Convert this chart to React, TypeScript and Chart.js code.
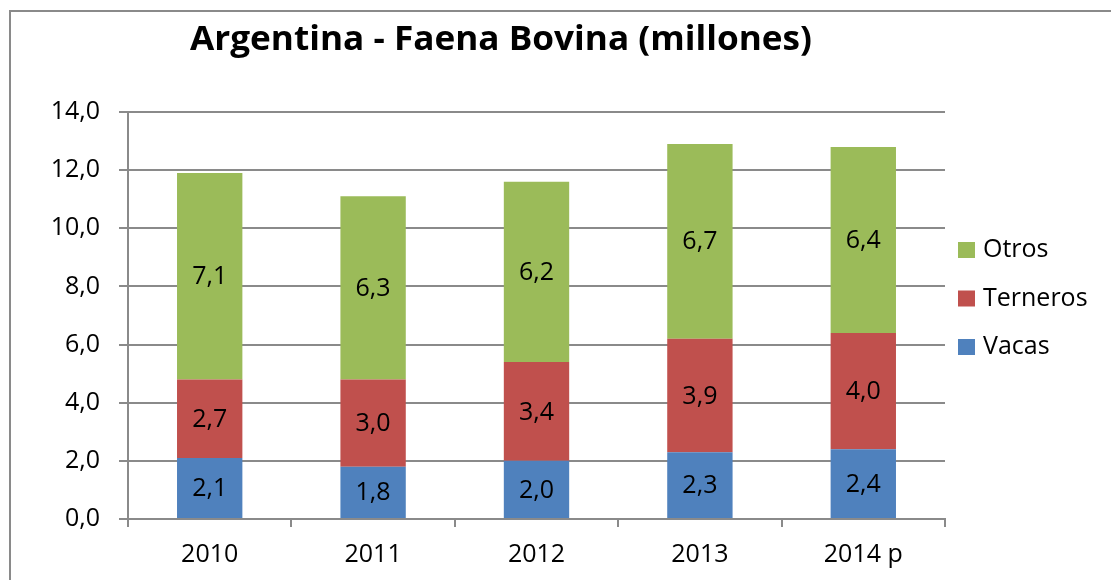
import React, { useEffect, useRef } from "react";
import { Chart, registerables } from "chart.js";

Chart.register(...registerables);

const categories = ["2010", "2011", "2012", "2013", "2014 p"];
const vacas = [2.1, 1.8, 2.0, 2.3, 2.4];
const terneros = [2.7, 3.0, 3.4, 3.9, 4.0];
const otros = [7.1, 6.3, 6.2, 6.7, 6.4];
const yMin = 0;
const yMax = 14;
const yStep = 2;
const titleText = "Argentina - Faena Bovina (millones)";

const FONT = "'Open Sans', sans-serif";
const fmt = (v: number) => v.toFixed(1).replace(".", ",");

const framePlugin = {
  id: "framePlugin",
  beforeDraw(chart: any) {
    const ctx = chart.ctx;
    ctx.save();
    ctx.fillStyle = "#ffffff";
    ctx.fillRect(0, 0, chart.width, chart.height);
    ctx.fillStyle = "#8a8a8a";
    ctx.fillRect(9, 10, 2, chart.height - 10);
    ctx.fillRect(9, 10, chart.width - 9, 2);
    ctx.restore();
  },
  afterDraw(chart: any) {
    const ctx = chart.ctx;
    ctx.save();
    // title
    ctx.fillStyle = "#000";
    ctx.font = `bold 34px ${FONT}`;
    ctx.textAlign = "center";
    ctx.textBaseline = "alphabetic";
    const w = ctx.measureText(titleText).width;
    const sx = 622 / w;
    ctx.save();
    ctx.translate(501, 50);
    ctx.scale(sx, 1);
    ctx.fillText(titleText, 0, 0);
    ctx.restore();
    // legend (reverse order)
    const items = chart.data.datasets
      .map((d: any) => ({ label: d.label, color: d.backgroundColor }))
      .reverse();
    ctx.font = `25px ${FONT}`;
    ctx.textAlign = "left";
    ctx.textBaseline = "middle";
    items.forEach((it: any, i: number) => {
      const cy = 250 + i * 48.5;
      ctx.fillStyle = it.color;
      ctx.fillRect(958, cy - 8, 17, 16);
      ctx.fillStyle = "#000";
      ctx.fillText(it.label, 983, cy);
    });
    ctx.restore();
  },
  afterDatasetsDraw(chart: any) {
    const ctx = chart.ctx;
    ctx.save();
    ctx.fillStyle = "#000";
    ctx.font = `25px ${FONT}`;
    ctx.textAlign = "center";
    ctx.textBaseline = "middle";
    chart.data.datasets.forEach((ds: any, i: number) => {
      const meta = chart.getDatasetMeta(i);
      meta.data.forEach((bar: any, j: number) => {
        const p = bar.getProps(["x", "y", "base"], true);
        ctx.fillText(fmt(ds.data[j]), p.x, (p.y + p.base) / 2 + 1);
      });
    });
    ctx.restore();
  },
};

export default function App() {
  const ref = useRef<HTMLCanvasElement>(null);
  useEffect(() => {
    if (!ref.current) return;
    const chart = new Chart(ref.current, {
      type: "bar",
      data: {
        labels: categories,
        datasets: [
          { label: "Vacas", data: vacas, backgroundColor: "#4F81BD" },
          { label: "Terneros", data: terneros, backgroundColor: "#C0504D" },
          { label: "Otros", data: otros, backgroundColor: "#9BBB59" },
        ],
      },
      options: {
        responsive: false,
        animation: false,
        layout: { padding: { left: 0, right: 166, top: 112, bottom: 0 } },
        datasets: { bar: { barPercentage: 0.4, categoryPercentage: 1, borderWidth: 0 } },
        plugins: {
          legend: { display: false },
          title: { display: false },
          tooltip: { enabled: false },
        },
        scales: {
          x: {
            stacked: true,
            grid: {
              drawOnChartArea: false,
              drawTicks: true,
              tickLength: 8,
              color: "#8a8a8a",
              lineWidth: 2,
              offset: true,
            },
            border: { color: "#8a8a8a", width: 2 },
            ticks: { color: "#000", font: { family: FONT, size: 25 }, padding: 13 },
            afterFit: (s: any) => {
              s.height = 61;
            },
          },
          y: {
            stacked: true,
            min: yMin,
            max: yMax,
            grid: { color: "#8a8a8a", lineWidth: 2, tickLength: 9 },
            border: { color: "#8a8a8a", width: 2 },
            ticks: {
              stepSize: yStep,
              color: "#000",
              font: { family: FONT, size: 25 },
              padding: 19,
              callback: (v: any) => fmt(Number(v)),
            },
            afterFit: (s: any) => {
              s.width = 128;
            },
          },
        },
      },
      plugins: [framePlugin],
    });
    return () => chart.destroy();
  }, []);
  return (
    <div style={{ position: "absolute", left: 0, top: 0, width: 1111, height: 580 }}>
      <canvas ref={ref} width={1111} height={580} />
    </div>
  );
}
